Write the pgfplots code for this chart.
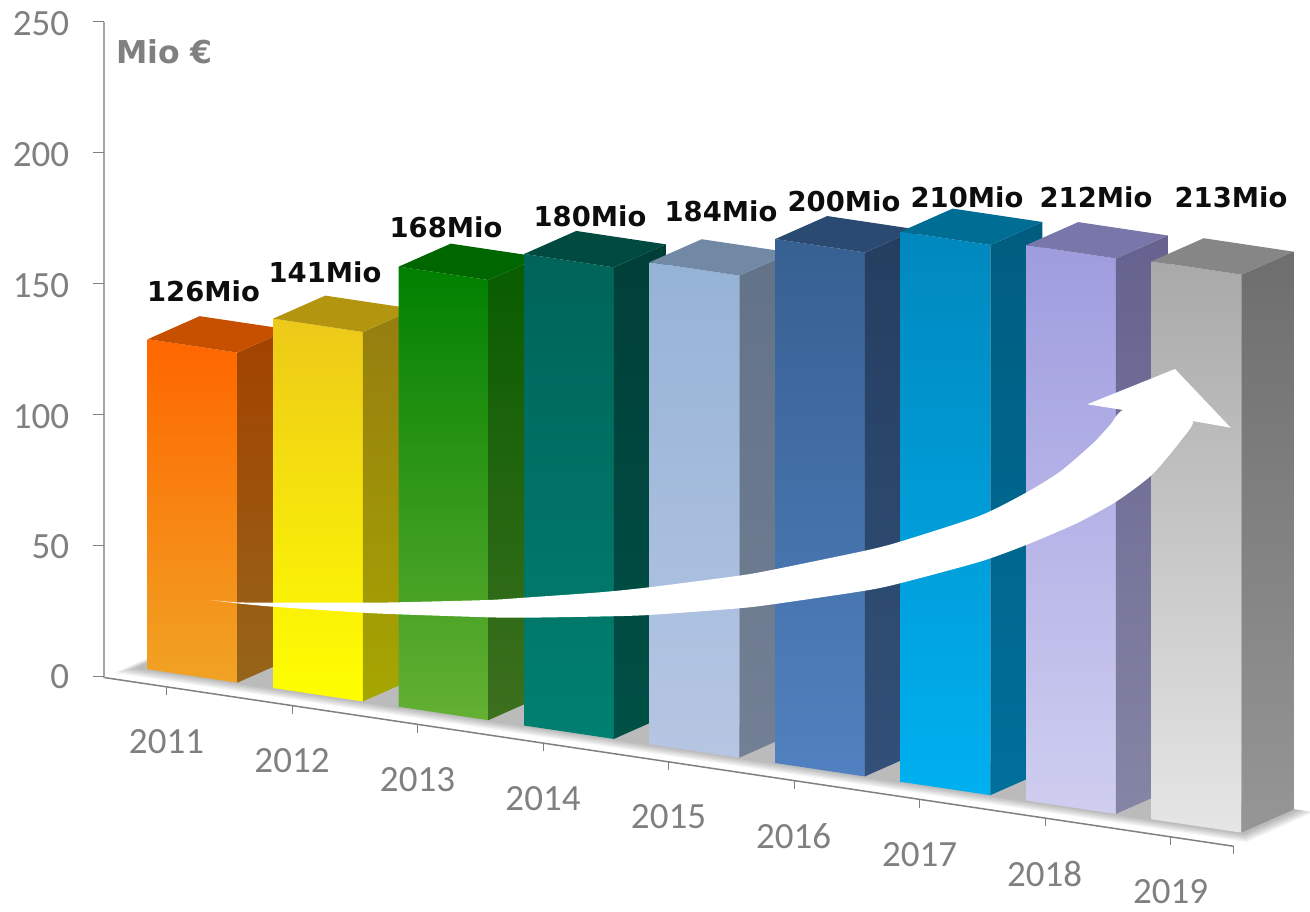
\documentclass[border=0pt]{standalone}
\usepackage{fontspec}
\setmainfont{Carlito}
\newfontfamily\labelfont{DejaVu Sans}
\usepackage{pgfplots}
\pgfplotsset{compat=1.18}

% bar colours: front top/bottom, side top/bottom, top face
\definecolor{f1t}{HTML}{FF6600}\definecolor{f1b}{HTML}{F0A324}\definecolor{s1t}{HTML}{A34200}\definecolor{s1b}{HTML}{96651A}\definecolor{t1}{HTML}{C65000}
\definecolor{f2t}{HTML}{EDC919}\definecolor{f2b}{HTML}{FFFF00}\definecolor{s2t}{HTML}{967D10}\definecolor{s2b}{HTML}{A6A600}\definecolor{t2}{HTML}{B3950F}
\definecolor{f3t}{HTML}{008000}\definecolor{f3b}{HTML}{64B033}\definecolor{s3t}{HTML}{085C00}\definecolor{s3b}{HTML}{3D701E}\definecolor{t3}{HTML}{006600}
\definecolor{f4t}{HTML}{00645A}\definecolor{f4b}{HTML}{008070}\definecolor{s4t}{HTML}{003F38}\definecolor{s4b}{HTML}{005046}\definecolor{t4}{HTML}{004A40}
\definecolor{f5t}{HTML}{95B3D7}\definecolor{f5b}{HTML}{B6C6E3}\definecolor{s5t}{HTML}{637387}\definecolor{s5b}{HTML}{727F94}\definecolor{t5}{HTML}{7289A6}
\definecolor{f6t}{HTML}{376092}\definecolor{f6b}{HTML}{5181C0}\definecolor{s6t}{HTML}{243E60}\definecolor{s6b}{HTML}{325078}\definecolor{t6}{HTML}{2A4A72}
\definecolor{f7t}{HTML}{0088BE}\definecolor{f7b}{HTML}{00B0F0}\definecolor{s7t}{HTML}{005D80}\definecolor{s7b}{HTML}{006F9B}\definecolor{t7}{HTML}{006D94}
\definecolor{f8t}{HTML}{9F9CDF}\definecolor{f8b}{HTML}{CFCEF0}\definecolor{s8t}{HTML}{65628F}\definecolor{s8b}{HTML}{8585A5}\definecolor{t8}{HTML}{7976A9}
\definecolor{f9t}{HTML}{A9A9A9}\definecolor{f9b}{HTML}{E6E6E6}\definecolor{s9t}{HTML}{6E6E6E}\definecolor{s9b}{HTML}{969696}\definecolor{t9}{HTML}{868686}
\definecolor{txtgray}{HTML}{808080}

% #1 colour index, #2 left, #3 right, #4 value
\newcommand\drawbar[4]{%
  \addplot3[draw=none,top color=f#1t,bottom color=f#1b] coordinates {(#2,0.479,0) (#3,0.479,0) (#3,0.479,#4) (#2,0.479,#4)} -- cycle;
  \addplot3[draw=none,top color=s#1t,bottom color=s#1b] coordinates {(#3,0.479,0) (#3,1.479,0) (#3,1.479,#4) (#3,0.479,#4)} -- cycle;
  \addplot3[draw=none,fill=t#1] coordinates {(#2,0.479,#4) (#3,0.479,#4) (#3,1.479,#4) (#2,1.479,#4)} -- cycle;
}
% soft floor shadow, one layer: #1 front edge, #2 left, #3 right
\newcommand\floorshadow[3]{%
  \addplot3[draw=none,fill=black,fill opacity=0.045] coordinates {(#2,#1,0) (#3,#1,0) (#3,1.5,0) (#2,1.5,0)} -- cycle;
}

\begin{document}
\begin{tikzpicture}
\begin{axis}[
    x={(125.5pt,-18.75pt)}, y={(52pt,23pt)}, z={(0pt,2.62pt)},
    xmin=0, xmax=9, ymin=0, ymax=1.5, zmin=0, zmax=250,
    axis lines=left, axis line style={-},
    y axis line style={draw=none},
    x axis line style={draw=black!50,line width=1.5pt},
    z axis line style={draw=black!35,line width=2pt},
    clip=false,
    xtick={0.5,1.5,2.5,3.5,4.5,5.5,6.5,7.5,8.5},
    xticklabels={2011,2012,2013,2014,2015,2016,2017,2018,2019},
    ytick=\empty,
    ztick={0,50,100,150,200,250},
    tick align=outside,
    major tick length=8pt,
    tick style={draw=none},
    tick label style={font=\fontsize{37}{37}\selectfont,text=txtgray},
    x tick label style={xshift=20pt,yshift=-32pt},
    z tick label style={xshift=-24pt,yshift=6pt},
    /pgf/number format/assume math mode=true,
    every axis plot/.append style={no markers,forget plot},
]
\coordinate (O) at (axis cs:0,0,0);
\floorshadow{0.20}{0.00}{9.02}
\floorshadow{0.24}{0.01}{9.00}
\floorshadow{0.28}{0.02}{8.98}
\floorshadow{0.32}{0.03}{8.96}
\floorshadow{0.36}{0.04}{8.94}
\floorshadow{0.40}{0.05}{8.92}
\floorshadow{0.44}{0.06}{8.90}
\drawbar{1}{0.150}{0.864}{126}
\drawbar{2}{1.150}{1.864}{141}
\drawbar{3}{2.150}{2.864}{168}
\drawbar{4}{3.150}{3.864}{180}
\drawbar{5}{4.150}{4.864}{184}
\drawbar{6}{5.150}{5.864}{200}
\drawbar{7}{6.150}{6.864}{210}
\drawbar{8}{7.150}{7.864}{212}
\drawbar{9}{8.150}{8.864}{213}
\end{axis}

% overlay in picture pixels: tick marks, arrow and labels
\begin{axis}[
    at={(O)}, xshift=-104pt, yshift=-233.5pt, anchor=south west,
    scale only axis, width=1310pt, height=911pt,
    xmin=0, xmax=1310, ymin=0, ymax=911, y dir=reverse,
    hide axis, clip=false,
]
\addplot[draw=black!50,line width=1pt,forget plot] coordinates {
  (93,21.5) (104,21.5)

  (93,152.5) (104,152.5)

  (93,283.5) (104,283.5)

  (93,414.5) (104,414.5)

  (93,545.5) (104,545.5)

  (93,676.5) (104,676.5)

  (166.8,687) (166.8,695)

  (292.3,706) (292.3,714)

  (417.8,725) (417.8,733)

  (543.3,743) (543.3,751)

  (668.8,762) (668.8,770)

  (794.3,781) (794.3,789)

  (919.8,800) (919.8,808)

  (1045.3,818) (1045.3,826)

  (1170.8,837) (1170.8,845)

  (1233,846) (1233,854)
};
% arrow shaft
\addplot[draw=none,fill=white,smooth,tension=0.4,forget plot] coordinates {
  (210,600) (237,602.3) (273,602.7) (363,602.7) (398,602.3) (488,600) (524,597.7)
  (600,592.3) (649,587.3) (739,575.7) (775,569.3) (865,550.7) (900,541.7) (980,515.7)
  (1026,492.7) (1060,471.7) (1093,443.3) (1110,425) (1123.3,410)
  (1158,415) (1192.7,421)
  (1180,441.7) (1151.7,475) (1116,501.7) (1076.7,523.3) (1026,545) (980,561.7)
  (900,583.3) (865,590.7) (775,604) (739,608.3) (649,615) (600,616.5) (524,617.7)
  (488,617.3) (398,614.3) (363,612.7) (273,606.7) (237,603.3)} -- cycle;
% arrow head
\addplot[draw=none,fill=white,forget plot] coordinates {
  (1123.3,410) (1087.3,404.3) (1175,369) (1230.7,427.7) (1192.7,421)} -- cycle;
\begin{scope}[every node/.style={font=\labelfont\bfseries\fontsize{27.4}{27.4}\selectfont,text=black!95}]
\node at (axis cs:203.5,291) {126Mio};
\node at (axis cs:325,272.5) {141Mio};
\node at (axis cs:446,227.5) {168Mio};
\node at (axis cs:590,216) {180Mio};
\node at (axis cs:721,211.7) {184Mio};
\node at (axis cs:844,201) {200Mio};
\node at (axis cs:967,197) {210Mio};
\node at (axis cs:1096,197) {212Mio};
\node at (axis cs:1231,197) {213Mio};
\end{scope}
\node[font=\labelfont\bfseries\fontsize{31.5}{31.5}\selectfont,text=txtgray,anchor=west,inner sep=0pt] at (axis cs:116,52) {Mio €};
\end{axis}
\pgfresetboundingbox
\path[use as bounding box,shift={(O)}] (-104pt,-233.5pt) rectangle (1206pt,677.5pt);
\end{tikzpicture}
\end{document}
